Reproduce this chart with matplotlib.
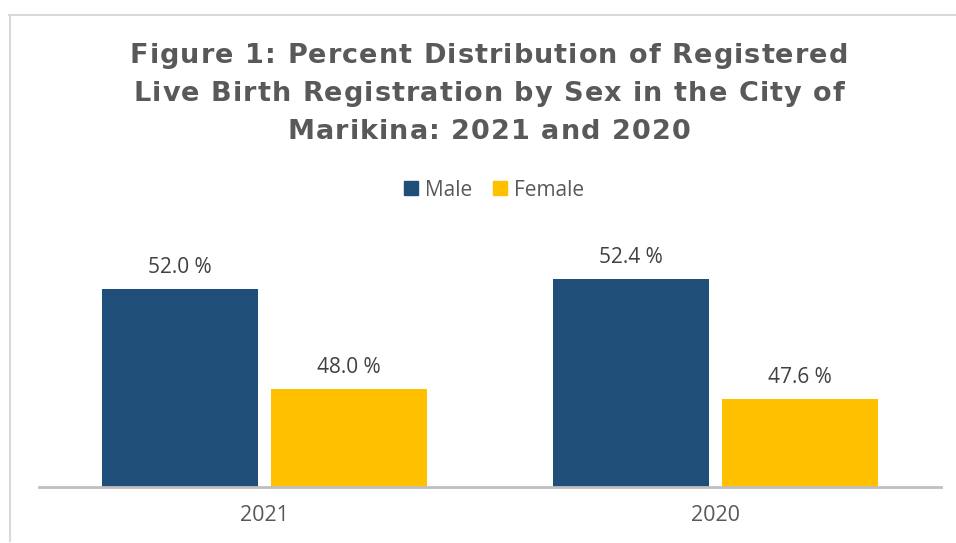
import matplotlib
matplotlib.use("Agg")
import matplotlib.pyplot as plt
import numpy as np
from matplotlib.lines import Line2D
from matplotlib.font_manager import FontProperties, findfont
from matplotlib.ft2font import FT2Font, LoadFlags

categories = ["2021", "2020"]
male = [52.0, 52.4]
female = [48.0, 47.6]
series_names = ["Male", "Female"]
colors = ["#1F4E79", "#FFC000"]
title_lines = ["Figure 1: Percent Distribution of Registered",
               "Live Birth Registration by Sex in the City of",
               "Marikina: 2021 and 2020"]

W, H = 956, 543
DPI = 100
fig = plt.figure(figsize=(W / DPI, H / DPI), dpi=DPI)


def fx(px):
    return px / W


def fy(py):
    return 1 - py / H


# axes: x 39..941, baseline y 487, top ~212
ax = fig.add_axes([fx(39), fy(487), fx(941) - fx(39), (487 - 212) / H])
ymin, ymax = 44.08, 55.08
ax.set_ylim(ymin, ymax)
ax.set_xlim(-0.5, 1.5)

x = np.arange(len(categories))
bw = 0.346
off = 0.1874
b1 = ax.bar(x - off, [v - ymin for v in male], bw, bottom=ymin, color=colors[0], label=series_names[0])
b2 = ax.bar(x + off, [v - ymin for v in female], bw, bottom=ymin, color=colors[1], label=series_names[1])

for bars, vals in ((b1, male), (b2, female)):
    for r, v in zip(bars, vals):
        ax.annotate(f"{v:.1f} %", (r.get_x() + r.get_width() / 2, v),
                    xytext=(0, 8), textcoords="offset points",
                    ha="center", va="bottom", fontsize=15, color="#404040",
                    family="Open Sans")

for s in ["top", "right", "left"]:
    ax.spines[s].set_visible(False)
ax.spines["bottom"].set_color("#BFBFBF")
ax.spines["bottom"].set_linewidth(2)
ax.set_yticks([])
ax.set_xticks(x)
ax.set_xticklabels(categories, fontsize=15.5, color="#595959", family="Open Sans")
ax.tick_params(axis="x", length=0, pad=13)

# Title with slight letter spacing, drawn character by character
tsize = 19.5
tprop = FontProperties(family="DejaVu Sans", weight="bold", size=tsize)
ft = FT2Font(findfont(tprop))
ft.set_size(tsize, DPI)


def advances(s):
    out = []
    for c in s:
        g = ft.load_char(ord(c), flags=LoadFlags.NO_HINTING)
        out.append(g.linearHoriAdvance / 65536)
    return out


target_w = 718.0
adv0 = advances(title_lines[0])
tracking = (target_w - sum(adv0)) / (len(title_lines[0]) - 1)
center_x = 489.0
baselines = [63, 101, 139]
for line, base in zip(title_lines, baselines):
    adv = advances(line)
    total = sum(adv) + tracking * (len(line) - 1)
    xpos = center_x - total / 2
    for c, a in zip(line, adv):
        if c != " ":
            fig.text(fx(xpos), fy(base), c, ha="left", va="baseline",
                     fontproperties=tprop, color="#595959")
        xpos += a + tracking

handles = [plt.Rectangle((0, 0), 1, 1, color=c) for c in colors]
fig.legend(handles, series_names, loc="center", bbox_to_anchor=(fx(494), fy(190)),
           ncol=2, frameon=False, prop={"family": "Open Sans", "size": 15},
           handlelength=0.65, handleheight=0.65, handletextpad=0.35, columnspacing=1.0,
           labelcolor="#595959")

# partial border
fig.add_artist(Line2D([fx(9), fx(956)], [fy(15), fy(15)], color="#D9D9D9", lw=1.5))
fig.add_artist(Line2D([fx(10), fx(10)], [fy(15), fy(541)], color="#D9D9D9", lw=1.5))

fig.savefig("out.png", dpi=DPI, facecolor="white")
